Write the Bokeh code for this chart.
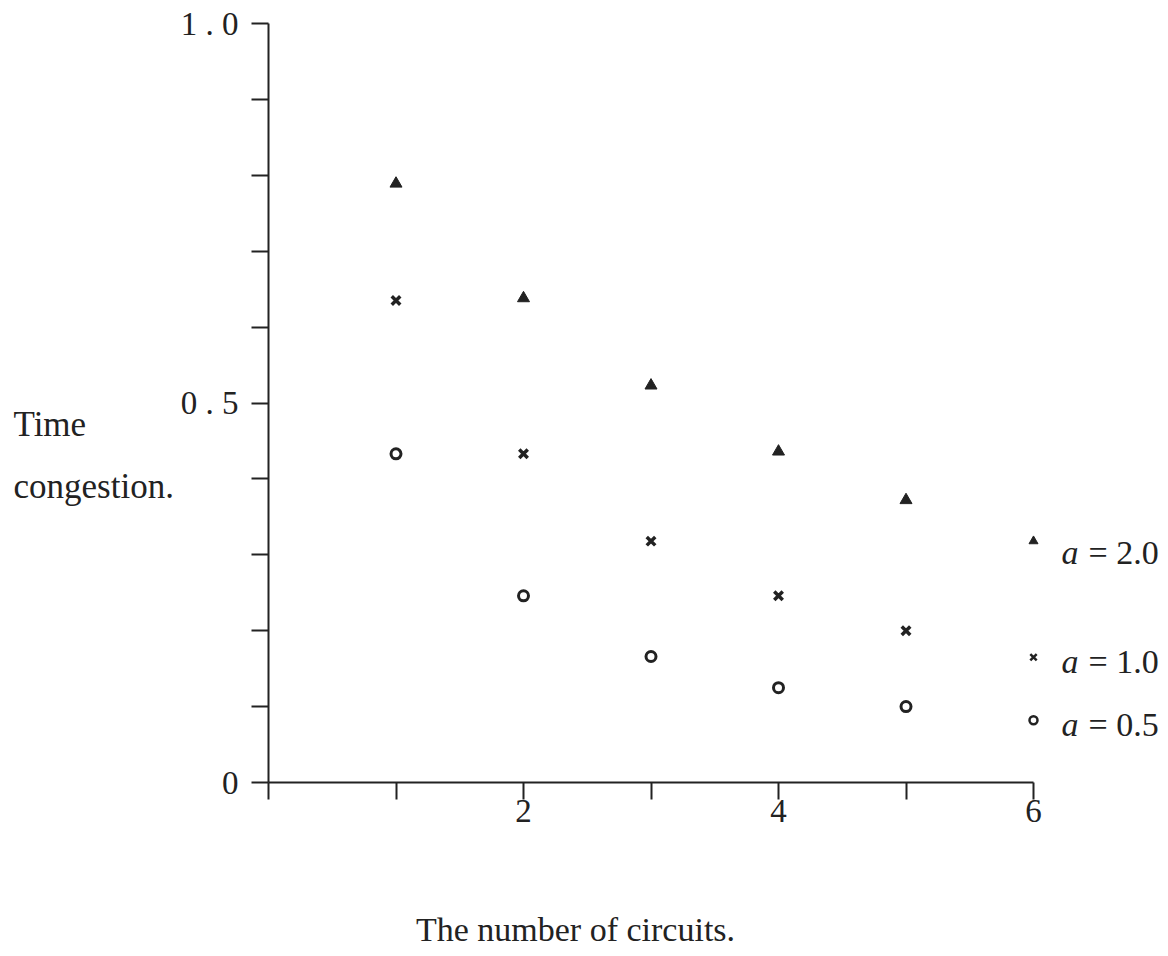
from bokeh.plotting import figure
from bokeh.models import LinearAxis, FixedTicker, Label, Range1d
from bokeh.embed import file_html
from bokeh.resources import INLINE

# ---------------- data ----------------
circuits = [1, 2, 3, 4, 5, 6]
a_values = ["2.0", "1.0", "0.5"]
congestion_a2 = [0.789, 0.638, 0.523, 0.436, 0.372, 0.318]
congestion_a1 = [0.635, 0.433, 0.318, 0.246, 0.200, 0.165]
congestion_a05 = [0.433, 0.246, 0.166, 0.125, 0.100, 0.082]
x_ticks = [0, 1, 2, 3, 4, 5, 6]
x_tick_labels = {2: "2", 4: "4", 6: "6"}
y_ticks = [round(i * 0.1, 1) for i in range(11)]
y_tick_labels = {0: "0", 0.5: "0 . 5", 1.0: "1 . 0"}
y_title = ["Time", "congestion."]
x_title = "The number of circuits."

# ---------------- layout ----------------
W, H = 1168, 956
X0_PX, Y0_PX = 268, 782      # pixel position of the origin
PX_PER_X = 127.5
PX_PER_Y = 759.0
INK = "#222222"
FONT = "Liberation Serif"
BASE_FIX = 8                 # label baseline correction (px)


def dx(px):
    return (px - X0_PX) / PX_PER_X


def dy(py):
    return (Y0_PX - py) / PX_PER_Y


p = figure(width=W, height=H, output_backend="svg", toolbar_location=None,
           x_range=Range1d(dx(0), dx(W)), y_range=Range1d(dy(H), dy(0)),
           x_axis_location=None, y_axis_location=None,
           min_border=0, min_border_left=0, min_border_right=0,
           min_border_top=0, min_border_bottom=0)
p.outline_line_color = None
p.xgrid.visible = False
p.ygrid.visible = False
p.background_fill_color = "white"
p.border_fill_color = "white"


def style_axis(ax):
    ax.axis_line_color = INK
    ax.axis_line_width = 2
    ax.major_tick_line_color = INK
    ax.major_tick_line_width = 2
    ax.major_tick_out = 17
    ax.major_tick_in = 0
    ax.minor_tick_line_color = None
    ax.major_label_text_font = FONT
    ax.major_label_text_font_size = "33px"
    ax.major_label_text_color = INK


xa = LinearAxis(ticker=FixedTicker(ticks=x_ticks), bounds=(0, 6), fixed_location=0)
xa.major_label_overrides = {t: x_tick_labels.get(t, "") for t in x_ticks}
style_axis(xa)
xa.major_label_standoff = 0
p.add_layout(xa, "below")

ya = LinearAxis(ticker=FixedTicker(ticks=y_ticks), bounds=(0, 1), fixed_location=0)
ya.major_label_overrides = {t: y_tick_labels.get(t, "") for t in y_ticks}
style_axis(ya)
ya.major_label_standoff = 13
p.add_layout(ya, "left")

# ---------------- markers ----------------
main = slice(0, 5)
last = slice(5, 6)
p.scatter(circuits[main], congestion_a2[main], marker="triangle", size=12,
          fill_color=INK, line_color=INK, line_width=1)
p.scatter(circuits[main], congestion_a1[main], marker="x", size=12,
          line_color=INK, line_width=3.5)
p.scatter(circuits[main], congestion_a05[main], marker="circle", size=10,
          fill_color="white", line_color=INK, line_width=3)
# n = 6 points (drawn as key markers)
p.scatter(circuits[last], congestion_a2[last], marker="triangle", size=9,
          fill_color=INK, line_color=INK, line_width=1)
p.scatter(circuits[last], congestion_a1[last], marker="x", size=9,
          line_color=INK, line_width=2.5)
p.scatter(circuits[last], congestion_a05[last], marker="circle", size=8,
          fill_color="white", line_color=INK, line_width=2.5)

# ---------------- key texts ----------------
key_series = [congestion_a2, congestion_a1, congestion_a05]
key_offsets = [19, 12, 12]
for val, series, off in zip(a_values, key_series, key_offsets):
    base_py = Y0_PX - series[-1] * PX_PER_Y + off - BASE_FIX
    p.add_layout(Label(x=dx(1061), y=dy(base_py), text="a",
                       text_font=FONT, text_font_style="italic",
                       text_font_size="34px", text_color=INK,
                       text_baseline="alphabetic", text_align="left"))
    p.add_layout(Label(x=dx(1088), y=dy(base_py), text="= " + val,
                       text_font=FONT, text_font_size="34px", text_color=INK,
                       text_baseline="alphabetic", text_align="left"))

# ---------------- titles ----------------
for txt, base in zip(y_title, [432, 494]):
    p.add_layout(Label(x=dx(13), y=dy(base - BASE_FIX), text=txt, text_font=FONT,
                       text_font_size="35px", text_color=INK,
                       text_baseline="alphabetic", text_align="left"))

p.add_layout(Label(x=dx(575), y=dy(937 - BASE_FIX), text=x_title, text_font=FONT,
                   text_font_size="34px", text_color=INK,
                   text_baseline="alphabetic", text_align="center"))

open("out.html", "w").write(file_html(p, INLINE))
